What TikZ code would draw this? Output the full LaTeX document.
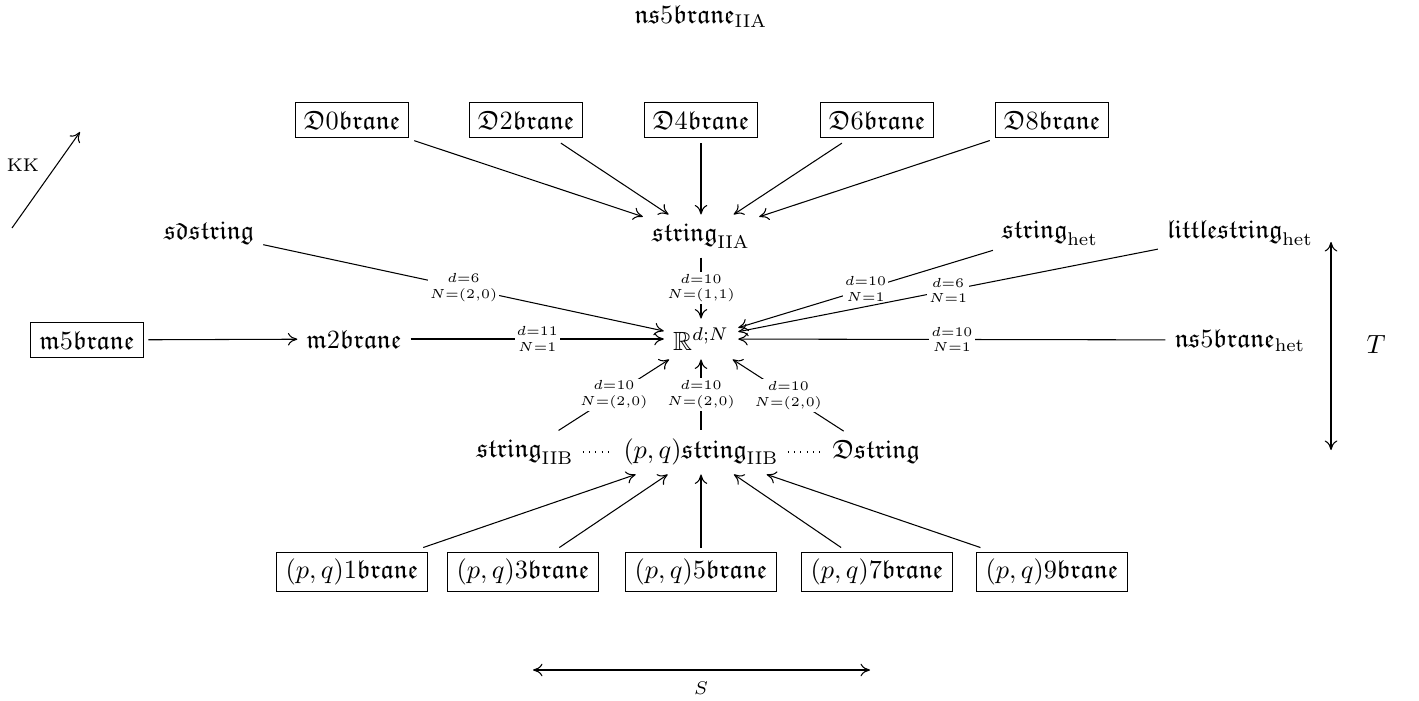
\documentclass[tikz,border=0pt]{standalone}
\usepackage{amssymb}
\usetikzlibrary{arrows.meta}
\begin{document}
\begin{tikzpicture}[x=0.38pt,y=-0.38pt,
  >={To[length=3.6pt,width=4.8pt]},
  box/.style={draw,outer sep=2pt},
  pbox/.style={draw,outer sep=2pt,inner ysep=2.3pt},
  lbl/.style={fill=white,font=\tiny,align=center,inner sep=0.8pt},
  arr/.style={->},
  dots/.style={dotted}
]
\useasboundingbox (0,0) rectangle (1419,700);
% title
\node (t) at (701,16) {$\mathfrak{ns}5\mathfrak{brane}_{\mathrm{IIA}}$};
% top boxes
\node[box] (D0) at (352,120) {$\mathfrak{D}0\mathfrak{brane}$};
\node[box] (D2) at (526,120) {$\mathfrak{D}2\mathfrak{brane}$};
\node[box] (D4) at (701,120) {$\mathfrak{D}4\mathfrak{brane}$};
\node[box] (D6) at (877,120) {$\mathfrak{D}6\mathfrak{brane}$};
\node[box] (D8) at (1052,120) {$\mathfrak{D}8\mathfrak{brane}$};
% row 3
\node (s0) at (209,233) {$\mathfrak{sdstring}$};
\node (sIIA) at (701,236) {$\mathfrak{string}_{\mathrm{IIA}}$};
\node (shet) at (1050,233) {$\mathfrak{string}_{\mathrm{het}}$};
\node (lshet) at (1240,233) {$\mathfrak{littlestring}_{\mathrm{het}}$};
% row 4
\node[box] (m5) at (87,340) {$\mathfrak{m}5\mathfrak{brane}$};
\node (m2) at (354,339) {$\mathfrak{m}2\mathfrak{brane}$};
\node (R) at (701,339) {$\mathbb{R}^{d;N}$};
\node (ns5het) at (1240,340) {$\mathfrak{ns}5\mathfrak{brane}_{\mathrm{het}}$};
% row 5
\node (sIIB) at (525,452) {$\mathfrak{string}_{\mathrm{IIB}}$};
\node (pqIIB) at (701,452) {$(p,q)\mathfrak{string}_{\mathrm{IIB}}$};
\node (Ds) at (876,452) {$\mathfrak{Dstring}$};
% bottom boxes
\node[pbox] (P1) at (352,572) {$(p,q)1\mathfrak{brane}$};
\node[pbox] (P3) at (523,572) {$(p,q)3\mathfrak{brane}$};
\node[pbox] (P5) at (701,572) {$(p,q)5\mathfrak{brane}$};
\node[pbox] (P7) at (877,572) {$(p,q)7\mathfrak{brane}$};
\node[pbox] (P9) at (1052,572) {$(p,q)9\mathfrak{brane}$};
% arrows top
\draw[arr] (D0) -- (sIIA);
\draw[arr] (D2) -- (sIIA);
\draw[arr] (D4) -- (sIIA);
\draw[arr] (D6) -- (sIIA);
\draw[arr] (D8) -- (sIIA);
% arrows into R
\draw[arr] (s0) -- node[lbl]{$d{=}6$\\$N{=}(2{,}0)$} (R);
\draw[arr] (sIIA) -- node[lbl]{$d{=}10$\\$N{=}(1{,}1)$} (R);
\draw[arr] (shet) -- node[lbl]{$d{=}10$\\$N{=}1$} (R);
\draw[arr] (lshet) -- node[lbl]{$d{=}6$\\$N{=}1$} (R);
\draw[arr] (m5) -- (m2);
\draw[arr] (m2) -- node[lbl]{$d{=}11$\\$N{=}1$} (R);
\draw[arr] (ns5het) -- node[lbl]{$d{=}10$\\$N{=}1$} (R);
\draw[arr] (sIIB) -- node[lbl]{$d{=}10$\\$N{=}(2{,}0)$} (R);
\draw[arr] (pqIIB) -- node[lbl]{$d{=}10$\\$N{=}(2{,}0)$} (R);
\draw[arr] (Ds) -- node[lbl]{$d{=}10$\\$N{=}(2{,}0)$} (R);
% dotted
\draw[dots] (sIIB) -- (pqIIB);
\draw[dots] (pqIIB) -- (Ds);
% bottom arrows
\draw[arr] (P1) -- (pqIIB);
\draw[arr] (P3) -- (pqIIB);
\draw[arr] (P5) -- (pqIIB);
\draw[arr] (P7) -- (pqIIB);
\draw[arr] (P9) -- (pqIIB);
% KK
\coordinate (kka) at (12,228);
\coordinate (kkb) at (80,132);
\draw[->] (kka) -- (kkb);
\node[font=\scriptsize] (kk) at (23,165) {KK};
% T
\coordinate (ta) at (1331,242);
\coordinate (tb) at (1331,450);
\draw[<->] (ta) -- (tb);
\node (tl) at (1376,345) {$T$};
% S
\coordinate (sa) at (533,670);
\coordinate (sb) at (870,670);
\draw[<->] (sa) -- (sb);
\node (sl) at (701,688) {$\scriptstyle S$};
\end{tikzpicture}
\end{document}
